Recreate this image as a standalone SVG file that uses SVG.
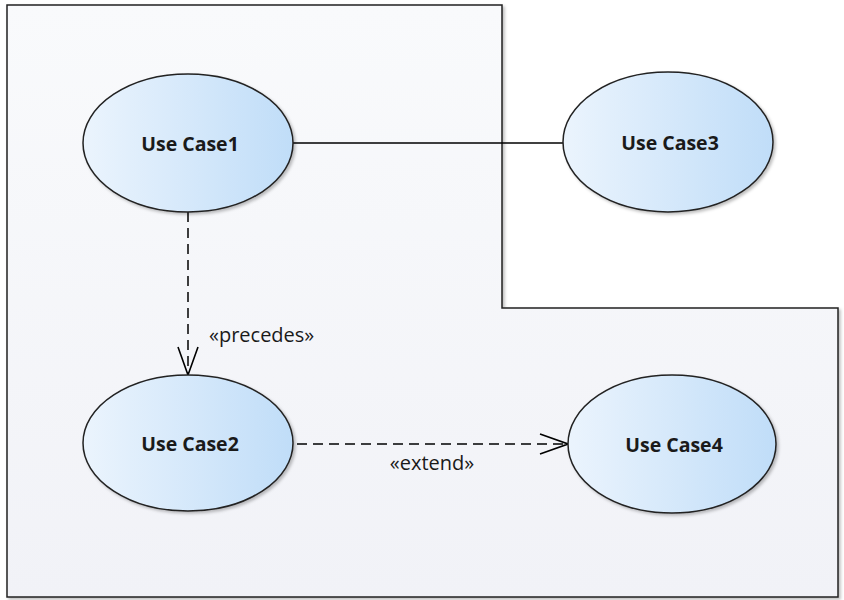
<svg xmlns="http://www.w3.org/2000/svg" width="844" height="600" viewBox="0 0 844 600">
<defs>
<linearGradient id="uc" x1="0" y1="0" x2="1" y2="0">
<stop offset="0" stop-color="#ebf4fd"/>
<stop offset="1" stop-color="#c0ddf8"/>
</linearGradient>
<linearGradient id="bg" x1="0" y1="0" x2="0" y2="1">
<stop offset="0" stop-color="#f9fafc"/>
<stop offset="1" stop-color="#f1f2f7"/>
</linearGradient>
<marker id="open" viewBox="0 0 32 24" refX="30" refY="12" markerWidth="32" markerHeight="24" markerUnits="userSpaceOnUse" orient="auto">
<path d="M2,2 L30,12 L2,22" fill="none" stroke="#000" stroke-width="1.6"/>
</marker>
<filter id="sh" x="-10%" y="-10%" width="130%" height="130%">
<feDropShadow dx="2" dy="2" stdDeviation="1.5" flood-color="#000" flood-opacity="0.25"/>
</filter>
</defs>
<style>
.uc{fill:url(#uc);stroke:#222;stroke-width:1.5;filter:url(#sh)}
.lbl{font-family:"Open Sans","Noto Sans",sans-serif;font-weight:bold;font-size:19.5px;fill:#1a1a1a;text-anchor:middle}
.st{font-family:"Open Sans","Noto Sans",sans-serif;font-size:20px;fill:#1a1a1a}
.ln{stroke:#000;stroke-width:1.5;fill:none}
.dash{stroke-dasharray:10,6}
</style>
<rect width="844" height="600" fill="#ffffff"/>
<g id="boundary">
<path d="M7,5 H502 V308 H838 V597 H7 Z" fill="url(#bg)" stroke="#222" stroke-width="1.5" filter="url(#sh)"/>
</g>
<g id="connectors">
<line class="ln" x1="293" y1="143" x2="563" y2="143"/>
<line class="ln dash" x1="188" y1="212" x2="188" y2="375" marker-end="url(#open)"/>
<text class="st" x="209" y="342">«precedes»</text>
<line class="ln dash" x1="297" y1="444" x2="568" y2="444" marker-end="url(#open)"/>
<text class="st" x="432" y="470" text-anchor="middle">«extend»</text>
</g>
<g id="uc1">
<ellipse class="uc" cx="188" cy="143" rx="105" ry="69"/>
<text class="lbl" x="190" y="151">Use Case1</text>
</g>
<g id="uc3">
<ellipse class="uc" cx="668" cy="142" rx="105" ry="70"/>
<text class="lbl" x="670" y="150">Use Case3</text>
</g>
<g id="uc2">
<ellipse class="uc" cx="188" cy="443" rx="105" ry="68"/>
<text class="lbl" x="190" y="451">Use Case2</text>
</g>
<g id="uc4">
<ellipse class="uc" cx="672" cy="444" rx="104" ry="69"/>
<text class="lbl" x="674" y="452">Use Case4</text>
</g>
</svg>
